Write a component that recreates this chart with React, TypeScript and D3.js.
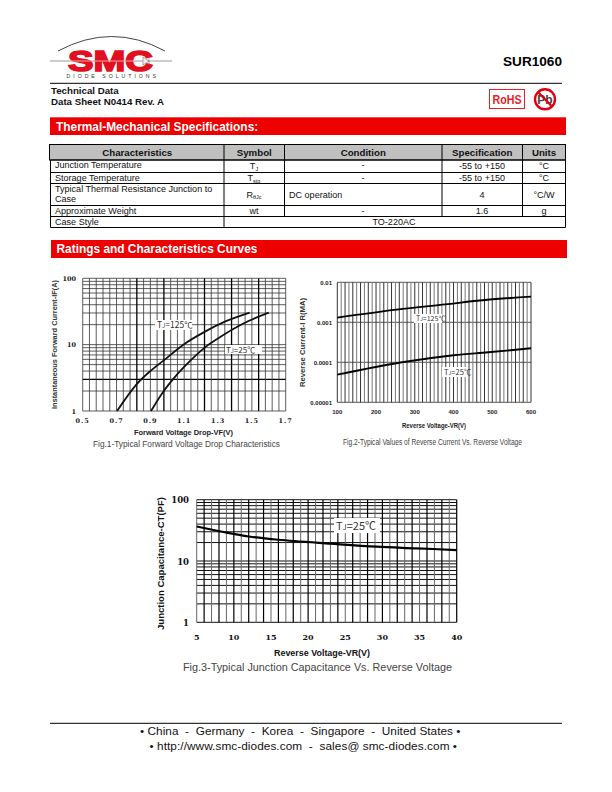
import React from "react";
import * as d3 from "d3";

const fig1Domain = [0.5, 1.7];
const fig1Ticks = [0.5, 0.7, 0.9, 1.1, 1.3, 1.5, 1.7];
const fig1Thick = [0.82, 0.98, 1.22, 1.38, 1.54];
const fig1V125 = [0.703, 0.817, 0.9, 0.987, 1.095, 1.223, 1.34, 1.487];
const fig1I125 = [1, 2.5, 4.0, 6.0, 10.0, 15.7, 22.2, 30.4];
const fig1V25 = [0.904, 0.97, 1.022, 1.105, 1.223, 1.302, 1.39, 1.48, 1.6];
const fig1I25 = [1, 1.85, 2.77, 4.77, 9.1, 12.5, 17.2, 22.7, 30.4];

const fig2Ticks = [100, 200, 300, 400, 500, 600];
const fig2YTicks = ["0.01", "0.001", "0.0001", "0.00001"];
const fig2V = [100, 253, 378, 481, 600];
const fig2I125 = [0.00131, 0.00207, 0.0028, 0.0036, 0.00438];
const fig2V25 = [100, 267, 400, 490, 600];
const fig2I25 = [0.0000492, 0.0001, 0.00015, 0.000178, 0.000224];

const fig3Ticks = [5, 10, 15, 20, 25, 30, 35, 40];
const fig3V = [5, 8.6, 12, 16, 23, 29.2, 34.6, 40];
const fig3C = [36.5, 29.7, 25.1, 22.2, 19.2, 17.1, 16.1, 15.1];

const logTicks = [1, 2, 3, 4, 5, 6, 7, 8, 9, 10, 20, 30, 40, 50, 60, 70, 80, 90, 100];

const tableHead = ["Characteristics", "Symbol", "Condition", "Specification", "Units"];
const tableRows = [
  ["Junction Temperature", "T|J", "-", "-55 to +150", "°C"],
  ["Storage Temperature", "T|stg", "-", "-55 to +150", "°C"],
  ["Typical Thermal Resistance Junction to/Case", "R|θJc", "DC operation", "4", "°C/W"],
  ["Approximate Weight", "wt", "-", "1.6", "g"],
];
const colEdges = [50.5, 224, 284.5, 442, 522.5, 565.5];
const rowEdges = [160, 172.5, 183.5, 205.5, 216.5, 227.5];

const SANS = "'Liberation Sans', Arial, sans-serif";
const SERIF = "'DejaVu Serif', serif";
const CJK = "'Noto Sans CJK SC', 'Liberation Sans', sans-serif";
const BODY = 9.05;

function TjLabel({ x, y, w, h, t, size, tx }: any) {
  return (
    <g>
      <rect x={x} y={y} width={w} height={h} fill="#fff" />
      <text x={tx ?? x + 2} y={y + h - (h - size) / 2 - 1} fontFamily={CJK} fontSize={size} fill="#333">
        T<tspan fontSize={size * 0.7}>J</tspan>={t}℃
      </text>
    </g>
  );
}

function Grid({ xs, ys, x, y, xStyle, yStyle }: any) {
  return (
    <g>
      {ys.map((v: number, i: number) => {
        const s = yStyle(v);
        return <line key={"h" + i} x1={x.range()[0]} x2={x.range()[1]} y1={y(v)} y2={y(v)} stroke={s[0]} strokeWidth={s[1]} />;
      })}
      {xs.map((v: number, i: number) => {
        const s = xStyle(v, i);
        return <line key={"v" + i} x1={x(v)} x2={x(v)} y1={y.range()[0]} y2={y.range()[1]} stroke={s[0]} strokeWidth={s[1]} />;
      })}
    </g>
  );
}

const smooth = d3.curveCatmullRom.alpha(0.5);

function Fig1() {
  const x = d3.scaleLinear().domain(fig1Domain).range([82.7, 285.7]);
  const y = d3.scaleLog().domain([1, 100]).range([411, 278.3]);
  const xs = d3.range(0, 31).map((i) => 0.5 + i * 0.04);
  const path = (vs: number[], is: number[]) =>
    d3.line<number>().x((d) => x(d)).y((_, i) => y(is[i])).curve(smooth)(vs) as string;
  return (
    <g>
      <Grid
        xs={xs}
        ys={logTicks}
        x={x}
        y={y}
        xStyle={(v: number) => (fig1Thick.some((t) => Math.abs(t - v) < 0.001) ? ["#000", 1.3] : ["#333", 0.8])}
        yStyle={(v: number) => (v === 3 ? ["#000", 1.2] : ["#333", 0.8])}
      />
      <path d={path(fig1V125, fig1I125)} fill="none" stroke="#111" strokeWidth={1.8} />
      <path d={path(fig1V25, fig1I25)} fill="none" stroke="#111" strokeWidth={1.8} />
      <TjLabel x={155} y={320} w={37} h={10} t={125} size={8.5} />
      <TjLabel x={225} y={345} w={37} h={9} t={25} size={8} tx={226} />
      {fig1Ticks.map((t) => (
        <text key={t} x={x(t)} y={423} textAnchor="middle" fontFamily={SERIF} fontWeight="bold" fontSize={6.5} letterSpacing={1} fill="#222">
          {t.toFixed(1)}
        </text>
      ))}
      {[1, 10, 100].map((t) => (
        <text key={t} x={76} y={y(t) + 2.5} textAnchor="end" fontFamily={SERIF} fontWeight="bold" fontSize={6.5} fill="#222">
          {t}
        </text>
      ))}
      <text transform="translate(57,344.5) rotate(-90)" textAnchor="middle" fontFamily={SANS} fontWeight="bold" fontSize={6.5} textLength={129} lengthAdjust="spacingAndGlyphs" fill="#333">
        Instantaneous Forward Current-IF(A)
      </text>
      <text x={134} y={435} fontFamily={SANS} fontWeight="bold" fontSize={7} textLength={99} lengthAdjust="spacingAndGlyphs" fill="#222">
        Forward Voltage Drop-VF(V)
      </text>
      <text x={93} y={447} fontFamily={SANS} fontSize={8.5} textLength={187} lengthAdjust="spacingAndGlyphs" fill="#444">
        Fig.1-Typical Forward Voltage Drop Characteristics
      </text>
    </g>
  );
}

function Fig2() {
  const x = d3.scaleLinear().domain([100, 600]).range([337.3, 531]);
  const y = d3.scaleLog().domain([0.00001, 0.01]).range([402.3, 282.3]);
  const xs = d3.range(100, 601, 10);
  const path = (vs: number[], is: number[]) =>
    d3.line<number>().x((d) => x(d)).y((_, i) => y(is[i])).curve(smooth)(vs) as string;
  return (
    <g>
      <Grid
        xs={xs}
        ys={[0.00001, 0.0001, 0.001, 0.01]}
        x={x}
        y={y}
        xStyle={(_: number, i: number) => (i % 2 === 0 ? ["#333", 1] : ["#777", 1])}
        yStyle={() => ["#444", 0.9]}
      />
      <path d={path(fig2V, fig2I125)} fill="none" stroke="#000" strokeWidth={1.9} />
      <path d={path(fig2V25, fig2I25)} fill="none" stroke="#000" strokeWidth={1.9} />
      <TjLabel x={414} y={314} w={28} h={9} t={125} size={7} />
      <TjLabel x={442} y={367} w={25} h={10} t={25} size={7.5} />
      {fig2Ticks.map((t) => (
        <text key={t} x={x(t)} y={414} textAnchor="middle" fontFamily={SANS} fontWeight="bold" fontSize={6} fill="#222">
          {t}
        </text>
      ))}
      {fig2YTicks.map((t) => (
        <text key={t} x={332} y={y(+t) + 2.5} textAnchor="end" fontFamily={SANS} fontWeight="bold" fontSize={6} fill="#222">
          {t}
        </text>
      ))}
      <text transform="translate(305,342.5) rotate(-90)" textAnchor="middle" fontFamily={SANS} fontWeight="bold" fontSize={6.5} textLength={89} lengthAdjust="spacingAndGlyphs" fill="#333">
        Reverse Current-I R(MA)
      </text>
      <text x={402} y={428} fontFamily={SANS} fontWeight="bold" fontSize={6.5} textLength={64} lengthAdjust="spacingAndGlyphs" fill="#222">
        Reverse Voltage-VR(V)
      </text>
      <text x={343} y={445} fontFamily={SANS} fontSize={8.5} textLength={179} lengthAdjust="spacingAndGlyphs" fill="#444">
        Fig.2-Typical Values of Reverse Current Vs. Reverse Voltage
      </text>
    </g>
  );
}

function Fig3() {
  const x = d3.scaleLinear().domain([5, 40]).range([196.7, 456.7]);
  const y = d3.scaleLog().domain([1, 100]).range([622.3, 499.7]);
  const xs = d3.range(5, 41);
  const path = d3.line<number>().x((d) => x(d)).y((_, i) => y(fig3C[i])).curve(smooth)(fig3V) as string;
  return (
    <g>
      <Grid
        xs={xs}
        ys={logTicks}
        x={x}
        y={y}
        xStyle={(v: number) => (v % 2 === 0 ? ["#000", 1.2] : ["#666", 1])}
        yStyle={() => ["#111", 1]}
      />
      <path d={path} fill="none" stroke="#000" strokeWidth={2.2} />
      <TjLabel x={334} y={518} w={46} h={15} t={25} size={11} />
      {fig3Ticks.map((t) => (
        <text key={t} x={x(t)} y={640} textAnchor="middle" fontFamily={SERIF} fontWeight="bold" fontSize={8} fill="#111">
          {t}
        </text>
      ))}
      {[1, 10, 100].map((t) => (
        <text key={t} x={189} y={y(t) + 3.5} textAnchor="end" fontFamily={SERIF} fontWeight="bold" fontSize={8.5} fill="#111">
          {t}
        </text>
      ))}
      <text transform="translate(164,563.5) rotate(-90)" textAnchor="middle" fontFamily={SANS} fontWeight="bold" fontSize={9.5} textLength={133} lengthAdjust="spacingAndGlyphs" fill="#111">
        Junction Capacitance-CT(PF)
      </text>
      <text x={274} y={656} fontFamily={SANS} fontWeight="bold" fontSize={9} textLength={96} lengthAdjust="spacingAndGlyphs" fill="#111">
        Reverse Voltage-VR(V)
      </text>
      <text x={183} y={671} fontFamily={SANS} fontSize={10} textLength={269} lengthAdjust="spacingAndGlyphs" fill="#444">
        Fig.3-Typical Junction Capacitance Vs. Reverse Voltage
      </text>
    </g>
  );
}

function Symbol_({ x, y, s }: any) {
  const parts = s.split("|");
  return (
    <text x={x} y={y} textAnchor="middle" fontFamily={SANS} fontSize={BODY} fill="#111">
      {parts[0]}
      {parts[1] && <tspan fontSize={5.5} dy={1.5}>{parts[1]}</tspan>}
    </text>
  );
}

function Table() {
  return (
    <g>
      <rect x={49.5} y={144.5} width={516} height={15.5} fill="#c0c0c0" stroke="#000" strokeWidth={1} />
      {colEdges.slice(1, 5).map((c) => (
        <line key={c} x1={c} x2={c} y1={144.5} y2={160} stroke="#000" />
      ))}
      {tableHead.map((h, i) => (
        <text key={h} x={(colEdges[i] + colEdges[i + 1]) / 2} y={156} textAnchor="middle" fontFamily={SANS} fontWeight="bold" fontSize={9.7} fill="#111">
          {h}
        </text>
      ))}
      {rowEdges.map((r) => (
        <line key={r} x1={50.5} x2={565.5} y1={r} y2={r} stroke="#000" />
      ))}
      <line x1={50.5} x2={50.5} y1={160} y2={227.5} stroke="#000" />
      <line x1={565.5} x2={565.5} y1={160} y2={227.5} stroke="#000" />
      {colEdges.slice(1, 5).map((c) => (
        <line key={"b" + c} x1={c} x2={c} y1={160} y2={c === 224 ? 227.5 : 216.5} stroke="#000" />
      ))}
      {tableRows.map((row, i) => {
        const top = rowEdges[i];
        const bot = rowEdges[i + 1];
        const base = (top + bot) / 2 + 3;
        const lines = row[0].split("/");
        return (
          <g key={i}>
            {lines.map((l, j) => (
              <text key={j} x={55} y={top + 8.2 + j * 10} fontFamily={SANS} fontSize={BODY} fill="#111">{l}</text>
            ))}
            <Symbol_ x={254} y={base} s={row[1]} />
            {row[2] === "-" ? (
              <text x={363} y={top + 8.2} textAnchor="middle" fontFamily={SANS} fontSize={BODY} fill="#111">-</text>
            ) : (
              <text x={289} y={base} fontFamily={SANS} fontSize={BODY} fill="#111">{row[2]}</text>
            )}
            <text x={482} y={i === 3 ? top + 8 : base} textAnchor="middle" fontFamily={SANS} fontSize={BODY} fill="#111">{row[3]}</text>
            <text x={544} y={base} textAnchor="middle" fontFamily={SANS} fontSize={BODY} fill="#111">{row[4]}</text>
          </g>
        );
      })}
      <text x={55} y={225} fontFamily={SANS} fontSize={BODY} fill="#111">Case Style</text>
      <text x={394} y={225} textAnchor="middle" fontFamily={SANS} fontSize={BODY} fill="#111">TO-220AC</text>
    </g>
  );
}

function Header() {
  return (
    <g>
      <path d="M58,51 Q112,22 165,51" fill="none" stroke="#444" strokeWidth={1} />
      <line x1={50} x2={172} y1={61} y2={61} stroke="#999" strokeWidth={1} />
      <text x={68} y={70.5} fontFamily={SANS} fontWeight="bold" fontSize={29} textLength={85} lengthAdjust="spacingAndGlyphs" fill="#e01020" stroke="#e01020" strokeWidth={1.6}>
        SMC
      </text>
      <line x1={68} x2={155} y1={61} y2={61} stroke="#f4c8c8" strokeWidth={0.8} />
      <path d="M143,57 L143,65 L149,61 Z M149,57 L149,65" fill="#eee" stroke="#777" strokeWidth={0.6} />
      <text x={66.5} y={77.5} fontFamily={SANS} fontSize={5.2} textLength={89.5} fill="#333">
        DIODE SOLUTIONS
      </text>
      <text x={562} y={66} textAnchor="end" fontFamily={SANS} fontWeight="bold" fontSize={13.6} fill="#000">SUR1060</text>
      <line x1={50} x2={562} y1={83.3} y2={83.3} stroke="#000" strokeWidth={1} />
      <text x={51} y={93.5} fontFamily={SANS} fontWeight="bold" fontSize={9.7} fill="#111">Technical Data</text>
      <text x={51} y={105} fontFamily={SANS} fontWeight="bold" fontSize={9.7} fill="#111">Data Sheet N0414 Rev. A</text>
      <rect x={489.5} y={89.5} width={35} height={19} fill="#fff" stroke="#e8202a" strokeWidth={1} />
      <text x={507} y={103.5} textAnchor="middle" fontFamily={SANS} fontWeight="bold" fontSize={12.5} textLength={29} lengthAdjust="spacingAndGlyphs" fill="#e8202a">RoHS</text>
      <circle cx={545} cy={99.3} r={10} fill="#fff" stroke="#e00010" strokeWidth={2.4} />
      <text x={545} y={103.5} textAnchor="middle" fontFamily={SANS} fontWeight="bold" fontSize={12} fill="#444">Pb</text>
      <line x1={538} x2={552} y1={92} y2={106.5} stroke="#e00010" strokeWidth={2.2} />
      <rect x={50} y={117.3} width={516} height={17.7} fill="#ee0000" />
      <text x={56} y={130.5} fontFamily={SANS} fontWeight="bold" fontSize={11.9} fill="#fff">Thermal-Mechanical Specifications:</text>
      <rect x={51} y={240} width={516} height={18} fill="#ee0000" />
      <text x={56.5} y={253} fontFamily={SANS} fontWeight="bold" fontSize={11.9} fill="#fff">Ratings and Characteristics Curves</text>
    </g>
  );
}

function Footer() {
  return (
    <g>
      <line x1={50} x2={562} y1={723.3} y2={723.3} stroke="#000" strokeWidth={1} />
      <text x={140} y={735} style={{ whiteSpace: "pre" }} fontFamily={SANS} fontSize={11.8} textLength={320.5} fill="#111">
        {"• China  -  Germany  -  Korea  -  Singapore  -  United States •"}
      </text>
      <text x={149.5} y={750} style={{ whiteSpace: "pre" }} fontFamily={SANS} fontSize={11.8} textLength={307.5} fill="#111">
        {"• http://www.smc-diodes.com  -  sales@ smc-diodes.com •"}
      </text>
    </g>
  );
}

export default function App() {
  return (
    <svg width={612} height={792} viewBox="0 0 612 792" style={{ position: "absolute", left: 0, top: 0, background: "#fff" }}>
      <Header />
      <Table />
      <Fig1 />
      <Fig2 />
      <Fig3 />
      <Footer />
    </svg>
  );
}
